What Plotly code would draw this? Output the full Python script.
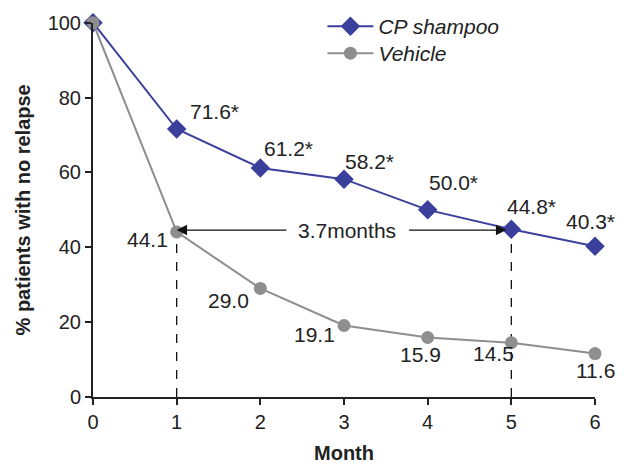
import plotly.graph_objects as go

months = [0, 1, 2, 3, 4, 5, 6]
cp_shampoo = [100, 71.6, 61.2, 58.2, 50.0, 44.8, 40.3]
vehicle = [100, 44.1, 29.0, 19.1, 15.9, 14.5, 11.6]
y_ticks = [0, 20, 40, 60, 80, 100]
gap_label = "3.7months"

BLUE = "#3b3f9c"
GRAY = "#8e8e8e"
TXT = "#222222"
FONT = "Liberation Sans, Arial, sans-serif"
FS = 20
LFS = 21

fig = go.Figure()
fig.add_trace(go.Scatter(
    x=months, y=cp_shampoo, name="CP shampoo", mode="lines+markers",
    line=dict(color=BLUE, width=2),
    marker=dict(symbol="diamond", size=15, color=BLUE),
    cliponaxis=False, legend="legend",
))
fig.add_trace(go.Scatter(
    x=months, y=vehicle, name="Vehicle", mode="lines+markers",
    line=dict(color=GRAY, width=2),
    marker=dict(symbol="circle", size=13, color=GRAY),
    cliponaxis=False, legend="legend2",
))

# value labels (offsets in pixels)
cp_offsets = [None, (38, 18), (28, 19), (25, 18), (26, 27), (20, 23), (-5, 25)]
veh_offsets = [None, (-29, -8), (-32, -12), (-30, -9), (-7, -17), (-18, -11), (0, -17)]
anns = []
for i in range(1, len(months)):
    dx, dy = cp_offsets[i]
    anns.append(dict(x=months[i], y=cp_shampoo[i], text=f"{cp_shampoo[i]:.1f}*",
                     showarrow=False, xshift=dx, yshift=dy,
                     font=dict(size=LFS, color=TXT, family=FONT)))
    dx, dy = veh_offsets[i]
    anns.append(dict(x=months[i], y=vehicle[i], text=f"{vehicle[i]:.1f}",
                     showarrow=False, xshift=dx, yshift=dy,
                     font=dict(size=LFS, color=TXT, family=FONT)))

arrow_y = 44.6
anns.append(dict(x=months[1], y=arrow_y, ax=2.33, ay=arrow_y, xref="x", yref="y",
                 axref="x", ayref="y", showarrow=True, arrowhead=2, arrowsize=1.6,
                 arrowwidth=1.3, arrowcolor="#111111", text=""))
anns.append(dict(x=months[5] - 0.06, y=arrow_y, ax=3.76, ay=arrow_y, xref="x", yref="y",
                 axref="x", ayref="y", showarrow=True, arrowhead=2, arrowsize=1.6,
                 arrowwidth=1.3, arrowcolor="#111111", text=""))
anns.append(dict(x=3.04, y=arrow_y, text=gap_label, showarrow=False,
                 font=dict(size=LFS, color=TXT, family=FONT)))

shapes = [
    dict(type="line", x0=months[1], x1=months[1], y0=0, y1=vehicle[1],
         line=dict(color="#111111", width=1.3, dash="dash"), layer="below"),
    dict(type="line", x0=months[5], x1=months[5], y0=0, y1=cp_shampoo[5],
         line=dict(color="#111111", width=1.3, dash="dash"), layer="below"),
]

# page body has an 8px margin, so the figure is 8px smaller and offset
W = 617
H = 457
B = 68.3
TOP = 14.7
PH = H - B
legend_common = dict(x=0.457, xanchor="left", yanchor="top",
                     font=dict(size=LFS, family=FONT, style="italic"),
                     itemwidth=46, bgcolor="rgba(0,0,0,0)")
fig.update_layout(
    width=W, height=H,
    margin=dict(l=84.5, r=30, t=0, b=B, autoexpand=False),
    paper_bgcolor="white", plot_bgcolor="white",
    font=dict(family=FONT, size=FS, color=TXT),
    showlegend=True,
    legend=dict(y=1 + 2 / PH, **legend_common),
    legend2=dict(y=1 - 25 / PH, **legend_common),
    annotations=anns, shapes=shapes,
    xaxis=dict(range=[0, 6], tickvals=months, showgrid=False, zeroline=False,
               showline=True, linecolor=TXT, linewidth=2, automargin=False,
               ticks="outside", ticklen=6, tickwidth=2, tickcolor=TXT,
               tickfont=dict(size=FS),
               title=dict(text="<b>Month</b>", font=dict(size=FS), standoff=14)),
    yaxis=dict(range=[0, 100], tickvals=y_ticks, showgrid=False, zeroline=False,
               domain=[0, 1 - TOP / PH],
               showline=True, linecolor=TXT, linewidth=2, automargin=False,
               ticks="outside", ticklen=6, tickwidth=2, tickcolor=TXT,
               tickfont=dict(size=FS),
               title=dict(text="<b>% patients with no relapse</b>", font=dict(size=FS), standoff=12)),
)

fig.write_html("out.html")
